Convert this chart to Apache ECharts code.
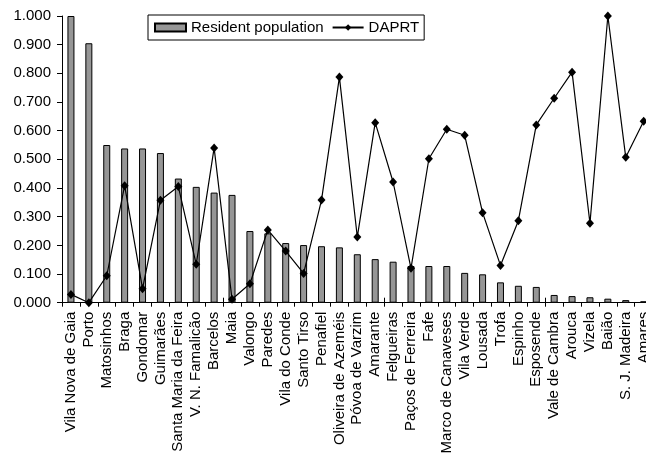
<!DOCTYPE html>
<html>
<head>
<meta charset="utf-8">
<script src="https://cdn.jsdelivr.net/npm/echarts@6/dist/echarts.min.js"></script>
<style>
  html, body { margin: 0; padding: 0; background: #ffffff; }
  #chart { width: 646px; height: 456px; }
</style>
</head>
<body>
<div id="chart"></div>
<script>
// Municipalities, ordered by resident population (index, largest = 1)
const municipalities = [
  'Vila Nova de Gaia', 'Porto', 'Matosinhos', 'Braga', 'Gondomar', 'Guimarães',
  'Santa Maria da Feira', 'V. N. Famalicão', 'Barcelos', 'Maia', 'Valongo',
  'Paredes', 'Vila do Conde', 'Santo Tirso', 'Penafiel', 'Oliveira de Azeméis',
  'Póvoa de Varzim', 'Amarante', 'Felgueiras', 'Paços de Ferreira', 'Fafe',
  'Marco de Canaveses', 'Vila Verde', 'Lousada', 'Trofa', 'Espinho', 'Esposende',
  'Vale de Cambra', 'Arouca', 'Vizela', 'Baião', 'S. J. Madeira', 'Amares'
];

// Resident population (normalised)
const residentPopulation = [
  1.000, 0.905, 0.550, 0.538, 0.538, 0.522,
  0.433, 0.404, 0.384, 0.376, 0.250,
  0.242, 0.208, 0.201, 0.197, 0.193,
  0.169, 0.152, 0.143, 0.128, 0.128,
  0.128, 0.104, 0.099, 0.071, 0.059, 0.055,
  0.027, 0.023, 0.019, 0.014, 0.009, 0.005
];

// DAPRT index (normalised)
const daprt = [
  0.029, 0.000, 0.094, 0.408, 0.049, 0.357,
  0.405, 0.134, 0.540, 0.012, 0.066,
  0.254, 0.180, 0.102, 0.358, 0.787,
  0.229, 0.628, 0.421, 0.120, 0.502,
  0.605, 0.584, 0.314, 0.130, 0.286, 0.620,
  0.713, 0.804, 0.277, 1.000, 0.507, 0.633
];

const FONT = 'Liberation Sans, Arial, sans-serif';

const chart = echarts.init(document.getElementById('chart'), null, { renderer: 'canvas' });

chart.setOption({
  animation: false,
  backgroundColor: '#ffffff',
  textStyle: { fontFamily: FONT, color: '#000' },
  legend: {
    left: 148,
    top: 15,
    padding: [5, 5, 5, 6],
    itemGap: 8,
    itemWidth: 31,
    itemHeight: 8,
    borderColor: '#000',
    borderWidth: 1,
    textStyle: { fontFamily: FONT, fontSize: 15, color: '#000' },
    data: [
      { name: 'Resident population', icon: 'rect' },
      { name: 'DAPRT' }
    ]
  },
  grid: {
    left: 62,
    top: 16,
    width: 590.6,
    height: 286.7,
    outerBoundsMode: 'none'
  },
  xAxis: [
    {
      type: 'category',
      data: municipalities,
      boundaryGap: true,
      axisLine: { lineStyle: { color: '#000', width: 1 } },
      axisTick: { show: true, inside: false, length: 4, lineStyle: { color: '#000' } },
      axisLabel: {
        rotate: 90,
        interval: 0,
        margin: 9,
        fontFamily: FONT,
        fontSize: 15,
        color: '#000'
      },
      splitLine: { show: false }
    },
    {
      // inner half of the crossing tick marks
      type: 'category',
      data: municipalities,
      position: 'bottom',
      boundaryGap: true,
      axisLine: { show: false },
      axisTick: { show: true, inside: true, length: 5, lineStyle: { color: '#000' } },
      axisLabel: { show: false },
      splitLine: { show: false }
    }
  ],
  yAxis: {
    type: 'value',
    min: 0,
    max: 1,
    interval: 0.1,
    axisLine: { show: true, lineStyle: { color: '#000', width: 1 } },
    axisTick: { show: true, inside: false, length: 5, lineStyle: { color: '#000' } },
    axisLabel: {
      margin: 11,
      fontFamily: FONT,
      fontSize: 15,
      color: '#000',
      formatter: v => v.toFixed(3)
    },
    splitLine: { show: false }
  },
  series: [
    {
      name: 'Resident population',
      type: 'bar',
      xAxisIndex: 0,
      data: residentPopulation,
      barWidth: 7,
      itemStyle: { color: '#969696', borderColor: '#000', borderWidth: 1 }
    },
    {
      name: 'DAPRT',
      type: 'line',
      xAxisIndex: 0,
      data: daprt,
      symbol: 'diamond',
      symbolSize: [8, 9],
      showAllSymbol: true,
      lineStyle: { color: '#000', width: 1.2 },
      itemStyle: { color: '#000' }
    }
  ]
});
</script>
</body>
</html>
